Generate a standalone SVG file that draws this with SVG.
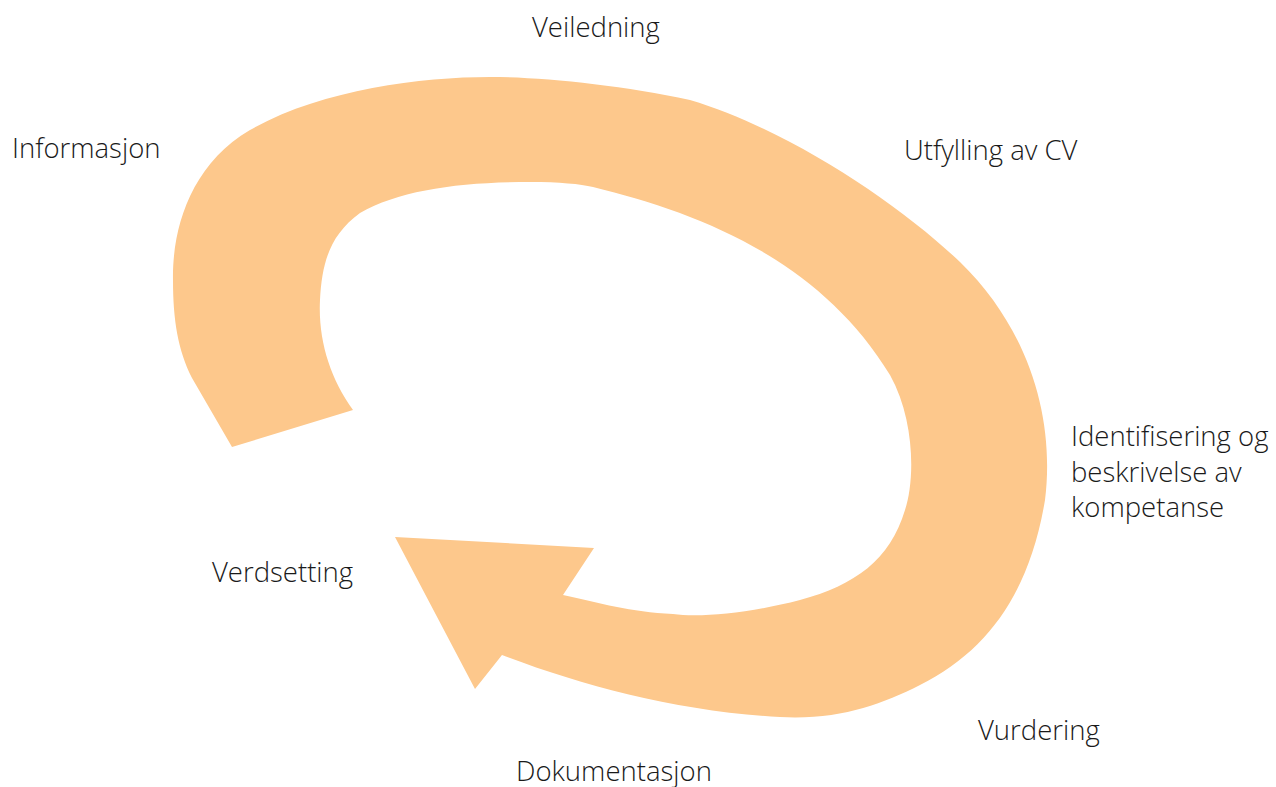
<svg xmlns="http://www.w3.org/2000/svg" width="1276" height="787" viewBox="0 0 1276 787">
<style>
text{font-family:"Open Sans","Liberation Sans",sans-serif;font-weight:300;font-size:27.5px;fill:#1a1a1a}
.arrow{fill:#fdc88c;stroke:none}
</style>
<rect width="1276" height="787" fill="#ffffff"/>
<g id="connectors">
<path class="arrow" d="M232,447 L353,410 C330,378 318,340 320,300 C322,262 330,235 360,213 C400,190 460,182 530,182 C560,182 580,184 593,187 C700,213 820,260 890,375 C915,420 915,480 905,510 C890,560 855,585 800,600 C750,613 700,618 673,614 C630,612 600,603 563,595 L594,548 L395,537 L475,689 L502,655 C580,685 680,712 780,717 C840,720 880,705 920,685 C990,650 1030,590 1045,500 C1055,420 1030,330 960,262 C900,205 790,130 690,100 C620,85 540,77 490,77 C420,77 320,90 250,130 C190,165 172,230 173,280 C173,320 178,350 192,378 L232,447 Z"/>
</g>
<g id="veiledning"><text x="532" y="37">Veiledning</text></g>
<g id="informasjon"><text x="12" y="158">Informasjon</text></g>
<g id="utfylling"><text x="904" y="160">Utfylling av CV</text></g>
<g id="identifisering"><text x="1071" y="446">Identifisering og</text><text x="1071" y="482">beskrivelse av</text><text x="1071" y="517">kompetanse</text></g>
<g id="vurdering"><text x="978" y="740">Vurdering</text></g>
<g id="dokumentasjon"><text x="516" y="781">Dokumentasjon</text></g>
<g id="verdsetting"><text x="212" y="582">Verdsetting</text></g>
</svg>
